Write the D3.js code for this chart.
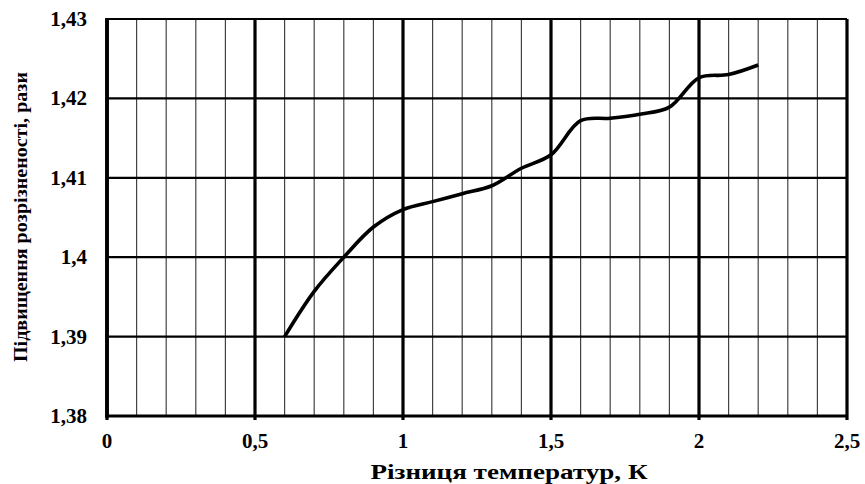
<!DOCTYPE html>
<html>
<head>
<meta charset="utf-8">
<script src="https://cdn.jsdelivr.net/npm/d3@7"></script>
<style>
  body { margin: 0; background: #fff; }
  text { font-family: "Liberation Serif", "Times New Roman", serif; font-weight: bold; fill: #000; }
</style>
</head>
<body>
<div id="chart"></div>
<script>
// temperature difference, K
const tempDiff = [0.6, 0.7, 0.8, 0.9, 1.0, 1.1, 1.2, 1.3, 1.4, 1.5, 1.6, 1.7, 1.8, 1.9, 2.0, 2.1, 2.2];
// resolution gain, times
const gain = [1.39, 1.3957, 1.4, 1.4038, 1.406, 1.407, 1.408, 1.409, 1.4112, 1.4129,
  1.4172, 1.4175, 1.418, 1.4189, 1.4226, 1.423, 1.4242];

const xTicks = [0, 0.5, 1, 1.5, 2, 2.5];
const xMinor = d3.range(0, 26).map((i) => i / 10);
const yTicks = [1.38, 1.39, 1.4, 1.41, 1.42, 1.43];

const xTitle = "Різниця температур, К";
const yTitle = "Підвищення розрізненості, рази";

const width = 865, height = 484;
const margin = { top: 19, right: 18, bottom: 68, left: 107 };
const w = width - margin.left - margin.right,
  h = height - margin.top - margin.bottom;

const svg = d3.select("#chart")
  .append("svg")
  .attr("width", width)
  .attr("height", height);

const xScale = d3.scaleLinear().domain([0, 2.5]).range([0, w]);
const yScale = d3.scaleLinear().domain([1.38, 1.43]).range([h, 0]);

const g = svg.append("g")
  .attr("transform", "translate(" + margin.left + "," + margin.top + ")");

const fmt = (d) => String(d).replace(".", ",");

// minor vertical lines every 0.1
g.append("g")
  .selectAll("line")
  .data(xMinor.filter((d) => !xTicks.some((t) => Math.abs(t - d) < 1e-9)))
  .enter()
  .append("line")
  .attr("x1", (d) => xScale(d))
  .attr("x2", (d) => xScale(d))
  .attr("y1", 0)
  .attr("y2", h)
  .attr("stroke", "#444")
  .attr("stroke-width", 1.2);

// horizontal grid
g.append("g")
  .selectAll("line")
  .data(yTicks)
  .enter()
  .append("line")
  .attr("x1", 0)
  .attr("x2", w)
  .attr("y1", (d) => yScale(d))
  .attr("y2", (d) => yScale(d))
  .attr("stroke", "#000")
  .attr("stroke-width", 2.2);

// major vertical lines
g.append("g")
  .selectAll("line")
  .data(xTicks)
  .enter()
  .append("line")
  .attr("x1", (d) => xScale(d))
  .attr("x2", (d) => xScale(d))
  .attr("y1", 0)
  .attr("y2", h + 4)
  .attr("stroke", "#000")
  .attr("stroke-width", 3.2);

// axes
g.append("line")
  .attr("x1", 0).attr("x2", 0)
  .attr("y1", -1).attr("y2", h + 1.5)
  .attr("stroke", "#000").attr("stroke-width", 3.8);
g.append("line")
  .attr("x1", -1.9).attr("x2", w)
  .attr("y1", h).attr("y2", h)
  .attr("stroke", "#000").attr("stroke-width", 3);

// tick labels
g.append("g")
  .selectAll("text")
  .data(xTicks)
  .enter()
  .append("text")
  .attr("x", (d) => xScale(d))
  .attr("y", h + 32)
  .attr("text-anchor", "middle")
  .attr("font-size", 21)
  .text(fmt);

g.append("g")
  .selectAll("text")
  .data(yTicks)
  .enter()
  .append("text")
  .attr("x", -20)
  .attr("y", (d) => yScale(d))
  .attr("dy", "0.33em")
  .attr("text-anchor", "end")
  .attr("font-size", 21)
  .text((d) => fmt(d3.format(".2f")(d)).replace(/0$/, ""));

// curve
const line = d3.line()
  .x((d, i) => xScale(tempDiff[i]))
  .y((d) => yScale(d))
  .curve(d3.curveCatmullRom.alpha(0.5));

g.append("path")
  .attr("d", line(gain))
  .attr("fill", "none")
  .attr("stroke", "#000")
  .attr("stroke-width", 3.6)
  .attr("stroke-linejoin", "round");

// axis titles
svg.append("text")
  .attr("x", margin.left + w / 2 + 32)
  .attr("y", 479)
  .attr("text-anchor", "middle")
  .attr("font-size", 20)
  .attr("textLength", 277)
  .attr("lengthAdjust", "spacingAndGlyphs")
  .text(xTitle);

svg.append("text")
  .attr("transform", "translate(27,217) rotate(-90)")
  .attr("text-anchor", "middle")
  .attr("font-size", 19)
  .attr("textLength", 290)
  .attr("lengthAdjust", "spacingAndGlyphs")
  .text(yTitle);
</script>
</body>
</html>
